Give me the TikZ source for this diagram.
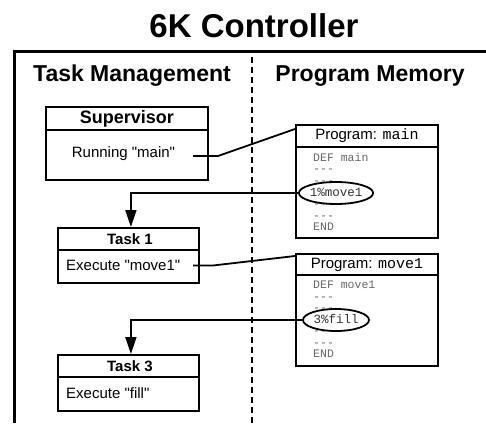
\documentclass[tikz,border=0pt]{standalone}
\usepackage{fontspec}
\setmainfont{Liberation Sans}[Ligatures=TeXOff]
\newfontfamily\monofont{Liberation Mono}[Ligatures=TeXOff]
\usetikzlibrary{arrows.meta,calc,shapes.geometric}
\begin{document}
\begin{tikzpicture}[x=1pt,y=-1pt,
  boxline/.style={draw, line width=1.8pt, inner sep=0pt, anchor=north west},
  hdr/.style={boxline, font=\fontsize{15}{18}\selectfont\bfseries},
  bodytxt/.style={font=\fontsize{15}{18}\selectfont, inner sep=0pt},
  code/.style={font=\fontsize{11.5}{12}\monofont, text=black!60, anchor=west, inner sep=0pt, text height=8.5pt, text depth=2.5pt},
  callout/.style={draw, ellipse, line width=1.8pt, fill=white, minimum width=66pt, minimum height=22pt, inner sep=0pt, font=\fontsize{12.5}{13}\monofont, text=black!80, text height=8.5pt, text depth=2.5pt},
  conn/.style={line width=1.8pt},
  arr/.style={conn, -{Triangle[length=17pt,width=11pt]}},
]
\useasboundingbox (0,0) rectangle (486,423);

% title and frame
\node[font=\fontsize{33}{36}\selectfont\bfseries, anchor=base, inner sep=0pt] (title) at (254,37) {6K Controller};
\draw[line width=3.3pt] (486,51.5) -- (14.5,51.5) -- (14.5,423);
\draw[line width=1.5pt, dash pattern=on 6pt off 4pt] (252,57) -- (252,423);

\node[font=\fontsize{23}{26}\selectfont\bfseries, anchor=base, inner sep=0pt] (tm) at (132,81) {Task Management};
\node[font=\fontsize{23}{26}\selectfont\bfseries, anchor=base, inner sep=0pt] (pm) at (370,81) {Program Memory};

% Supervisor
\node[hdr, minimum width=162pt, minimum height=23pt, font=\fontsize{18}{20}\selectfont\bfseries] (suph) at (45,106) {Supervisor};
\node[boxline, minimum width=162pt, minimum height=50pt] (supb) at (45,129) {};
\node[bodytxt] (run) at (123.5,154) {Running "main"};

% Task 1
\node[hdr, minimum width=141pt, minimum height=22pt] (t1h) at (57,227) {\hspace*{3pt}Task 1};
\node[boxline, minimum width=141pt, minimum height=33pt] (t1b) at (57,249) {};
\node[bodytxt, anchor=west] (ex1) at (66,265.5) {Execute "move1"};

% Task 3
\node[hdr, minimum width=141pt, minimum height=22pt] (t3h) at (57,354) {\hspace*{3pt}Task 3};
\node[boxline, minimum width=141pt, minimum height=34pt] (t3b) at (57,376) {};
\node[bodytxt, anchor=west] (ex3) at (66,393) {Execute "fill"};

% Program main
\node[boxline, minimum width=142pt, minimum height=22pt, font=\fontsize{15}{18}\selectfont] (mainh) at (295,124) {Program: {\monofont main}};
\node[boxline, minimum width=142pt, minimum height=91pt] (mainb) at (295,146) {};
\node[code] (m1) at (313,158) {DEF main};
\node[code] (m2) at (313,169.5) {---};
\node[code] (m3) at (313,181) {---};
\node[code] (m5) at (313,204.5) {---};
\node[code] (m6) at (313,216) {---};
\node[code] (m7) at (313,227) {END};
\node[callout] (ell1) at (336,193) {1\%move1};

% Program move1
\node[boxline, minimum width=142pt, minimum height=21pt, font=\fontsize{15}{18}\selectfont] (moveh) at (295,253) {Program: {\monofont move1}};
\node[boxline, minimum width=142pt, minimum height=91pt] (moveb) at (295,274) {};
\node[code] (n1) at (313,285.5) {DEF move1};
\node[code] (n2) at (313,297) {---};
\node[code] (n3) at (313,308.5) {---};
\node[code] (n5) at (313,331.5) {---};
\node[code] (n6) at (313,343) {---};
\node[code] (n7) at (313,354.5) {END};
\node[callout] (ell2) at (336,320) {3\%fill};

% connectors
\coordinate (s1) at (193,156);
\coordinate (b1) at (218,156);
\draw[conn] (s1) -- (b1) -- ([yshift=-5pt]mainh.north west);
\coordinate (s2) at (193,265.5);
\coordinate (b2) at (213,265.5);
\draw[conn] (s2) -- (b2) -- ([yshift=-3pt]moveh.north west);
\draw[arr] (ell1.west) -| ([xshift=2.5pt]t1h.north);
\draw[arr] (ell2.west) -| ([xshift=2.5pt]t3h.north);
\end{tikzpicture}
\end{document}
